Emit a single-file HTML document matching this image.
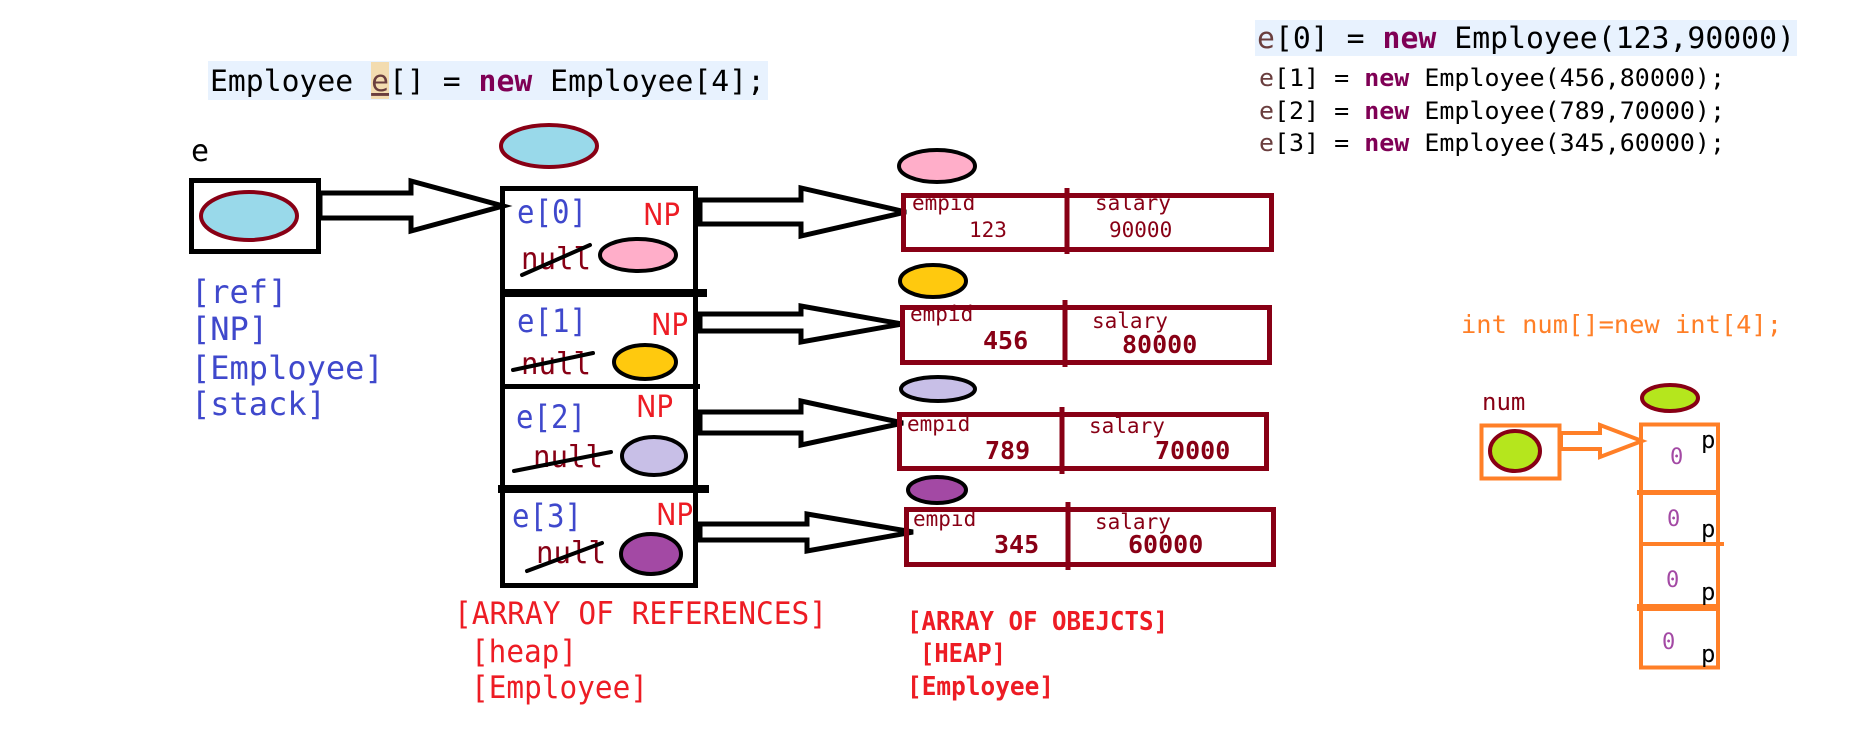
<!DOCTYPE html>
<html><head><meta charset="utf-8"><style>
html,body{margin:0;padding:0;background:#fff;}
svg{display:block}
text{font-family:"DejaVu Sans Mono","Liberation Mono",monospace;}
</style></head><body>
<svg width="1850" height="743" viewBox="0 0 1850 743" xmlns="http://www.w3.org/2000/svg">
<!-- header code -->
<rect x="208" y="61" width="560" height="39" fill="#e8f2fe"/>
<rect x="371" y="62" width="18" height="37" fill="#f3dcb0"/>
<text x="210" y="91" font-size="29" textLength="555" lengthAdjust="spacingAndGlyphs" fill="#000">Employee <tspan fill="#6a3e3e" text-decoration="underline">e</tspan>[] = <tspan fill="#7f0055" font-weight="bold">new</tspan> Employee[4];</text>

<!-- e label and box -->
<text x="191" y="161" font-size="30" fill="#000">e</text>
<rect x="191.5" y="180.5" width="127" height="71" fill="none" stroke="#000" stroke-width="5"/>
<ellipse cx="249" cy="216" rx="48" ry="24" fill="#99d9ea" stroke="#880015" stroke-width="4"/>
<polygon points="320,193 411,193 411,181 503,206 411,231 411,218 320,218" fill="#fff" stroke="#000" stroke-width="5" stroke-linejoin="miter"/>

<text font-size="32" fill="#3f48cc">
<tspan x="191" y="303">[ref]</tspan><tspan x="191" y="340">[NP]</tspan><tspan x="191" y="379">[Employee]</tspan><tspan x="191" y="415">[stack]</tspan></text>

<!-- top ellipse -->
<ellipse cx="549" cy="146" rx="48" ry="21" fill="#99d9ea" stroke="#880015" stroke-width="4"/>

<!-- array of references -->
<rect x="502.5" y="188.5" width="193" height="397" fill="none" stroke="#000" stroke-width="5"/>
<rect x="501" y="289" width="206" height="8" fill="#000"/>
<rect x="502" y="384" width="198" height="5" fill="#000"/>
<rect x="498" y="485" width="211" height="8" fill="#000"/>

<g font-size="32" fill="#3f48cc">
<text x="517" y="223" textLength="70" lengthAdjust="spacingAndGlyphs">e[0]</text>
<text x="517" y="332" textLength="70" lengthAdjust="spacingAndGlyphs">e[1]</text>
<text x="516" y="428" textLength="70" lengthAdjust="spacingAndGlyphs">e[2]</text>
<text x="512" y="527" textLength="70" lengthAdjust="spacingAndGlyphs">e[3]</text>
</g>
<g font-size="30" fill="#ed1c24">
<text x="643" y="225" textLength="37" lengthAdjust="spacingAndGlyphs" style="font-family:'DejaVu Sans'">NP</text>
<text x="651" y="335" textLength="37" lengthAdjust="spacingAndGlyphs" style="font-family:'DejaVu Sans'">NP</text>
<text x="636" y="417" textLength="37" lengthAdjust="spacingAndGlyphs" style="font-family:'DejaVu Sans'">NP</text>
<text x="656" y="525" textLength="37" lengthAdjust="spacingAndGlyphs" style="font-family:'DejaVu Sans'">NP</text>
</g>
<g font-size="30" fill="#880015">
<text x="521" y="269" textLength="70" lengthAdjust="spacingAndGlyphs">null</text>
<text x="521" y="374" textLength="70" lengthAdjust="spacingAndGlyphs">null</text>
<text x="533" y="467" textLength="70" lengthAdjust="spacingAndGlyphs">null</text>
<text x="536" y="563" textLength="70" lengthAdjust="spacingAndGlyphs">null</text>
</g>
<g stroke="#000" stroke-width="4" stroke-linecap="round">
<line x1="522" y1="275" x2="590" y2="245"/>
<line x1="513" y1="370" x2="593" y2="353"/>
<line x1="514" y1="471" x2="611" y2="452"/>
<line x1="527" y1="571" x2="602" y2="543"/>
</g>
<ellipse cx="638" cy="255" rx="38" ry="16" fill="#ffaec9" stroke="#000" stroke-width="4"/>
<ellipse cx="645" cy="362" rx="31" ry="17" fill="#ffc90e" stroke="#000" stroke-width="4"/>
<ellipse cx="654" cy="456" rx="32" ry="19" fill="#c8bfe7" stroke="#000" stroke-width="4"/>
<ellipse cx="651" cy="554" rx="30" ry="20" fill="#a349a4" stroke="#000" stroke-width="4"/>

<!-- arrows to objects -->
<g fill="#fff" stroke="#000" stroke-width="5">
<polygon points="700,200 801,200 801,188 906,212 801,236 801,224 700,224"/>
<polygon points="700,314 801,314 801,306 902,324 801,342 801,331 700,331"/>
<polygon points="700,412 801,412 801,401 903,423 801,445 801,433 700,433"/>
<polygon points="700,524 807,524 807,514 913,532 807,551 807,540 700,540"/>
</g>
<rect x="696" y="198" width="6" height="28" fill="#000"/>
<rect x="696" y="312" width="6" height="21" fill="#000"/>

<!-- objects -->
<g fill="none" stroke="#880015" stroke-width="5">
<rect x="903.5" y="195.5" width="368" height="54"/>
<line x1="1067" y1="188" x2="1067" y2="254"/>
<rect x="902.5" y="307.5" width="367" height="55"/>
<line x1="1065" y1="300" x2="1065" y2="367"/>
<rect x="899.5" y="414.5" width="367" height="54"/>
<line x1="1062" y1="407" x2="1062" y2="474"/>
<rect x="906.5" y="509.5" width="367" height="55"/>
<line x1="1068" y1="502" x2="1068" y2="570"/>
</g>
<ellipse cx="937" cy="166" rx="38" ry="16" fill="#ffaec9" stroke="#000" stroke-width="4"/>
<ellipse cx="933" cy="281" rx="33" ry="16" fill="#ffc90e" stroke="#000" stroke-width="4"/>
<ellipse cx="938" cy="389" rx="37" ry="12" fill="#c8bfe7" stroke="#000" stroke-width="4"/>
<ellipse cx="937" cy="490" rx="29" ry="13" fill="#a349a4" stroke="#000" stroke-width="4"/>

<g font-size="21" fill="#880015">
<text x="912" y="210">empid</text><text x="969" y="237">123</text>
<text x="1095" y="210">salary</text><text x="1109" y="237">90000</text>
<text x="910" y="321">empid</text>
<text x="1092" y="328">salary</text>
<text x="907" y="431">empid</text>
<text x="1089" y="433">salary</text>
<text x="913" y="526">empid</text>
<text x="1095" y="529">salary</text>
</g>
<g font-size="25" fill="#880015" font-weight="bold">
<text x="983" y="349">456</text><text x="1122" y="353">80000</text>
<text x="985" y="459">789</text><text x="1155" y="459">70000</text>
<text x="994" y="553">345</text><text x="1128" y="553">60000</text>
</g>

<!-- bottom labels -->
<g font-size="31" fill="#ed1c24">
<text x="454" y="624" textLength="373" lengthAdjust="spacingAndGlyphs">[ARRAY OF REFERENCES]</text>
<text x="471" y="662" textLength="106" lengthAdjust="spacingAndGlyphs">[heap]</text>
<text x="471" y="698" textLength="177" lengthAdjust="spacingAndGlyphs">[Employee]</text>
</g>
<g font-size="26" fill="#ed1c24" font-weight="bold">
<text x="907" y="630" textLength="261" lengthAdjust="spacingAndGlyphs">[ARRAY OF OBEJCTS]</text>
<text x="920" y="662" textLength="86" lengthAdjust="spacingAndGlyphs">[HEAP]</text>
<text x="907" y="695" textLength="147" lengthAdjust="spacingAndGlyphs">[Employee]</text>
</g>

<!-- right code -->
<rect x="1255" y="20" width="542" height="36" fill="#e8f2fe"/>
<text x="1257" y="48" font-size="29" textLength="538" lengthAdjust="spacingAndGlyphs" fill="#000"><tspan fill="#6a3e3e">e</tspan>[0] = <tspan fill="#7f0055" font-weight="bold">new</tspan> Employee(123,90000)</text>
<g font-size="24" fill="#000">
<text x="1259" y="86" textLength="466" lengthAdjust="spacingAndGlyphs"><tspan fill="#6a3e3e">e</tspan>[1] = <tspan fill="#7f0055" font-weight="bold">new</tspan> Employee(456,80000);</text>
<text x="1259" y="119" textLength="466" lengthAdjust="spacingAndGlyphs"><tspan fill="#6a3e3e">e</tspan>[2] = <tspan fill="#7f0055" font-weight="bold">new</tspan> Employee(789,70000);</text>
<text x="1259" y="151" textLength="466" lengthAdjust="spacingAndGlyphs"><tspan fill="#6a3e3e">e</tspan>[3] = <tspan fill="#7f0055" font-weight="bold">new</tspan> Employee(345,60000);</text>
</g>

<!-- int array -->
<text x="1461" y="333" font-size="25" fill="#ff7f27" textLength="321" lengthAdjust="spacingAndGlyphs">int num[]=new int[4];</text>
<text x="1482" y="410" font-size="24" fill="#880015">num</text>
<rect x="1481.5" y="425.5" width="78" height="53" fill="none" stroke="#ff7f27" stroke-width="4"/>
<ellipse cx="1515" cy="451" rx="25" ry="20" fill="#b5e61d" stroke="#880015" stroke-width="4"/>
<polygon points="1561,433 1600,433 1600,425 1642,441 1600,457 1600,449 1561,449" fill="#fff" stroke="#ff7f27" stroke-width="4"/>
<ellipse cx="1670" cy="398" rx="28" ry="13" fill="#b5e61d" stroke="#880015" stroke-width="4"/>
<rect x="1641" y="424.5" width="77" height="243" fill="none" stroke="#ff7f27" stroke-width="4"/>
<rect x="1637" y="490" width="82" height="5" fill="#ff7f27"/>
<rect x="1640" y="542" width="84" height="4" fill="#ff7f27"/>
<rect x="1637" y="604" width="83" height="7" fill="#ff7f27"/>
<g font-size="22" fill="#a349a4">
<text x="1670" y="464">0</text><text x="1667" y="526">0</text><text x="1666" y="587">0</text><text x="1662" y="649">0</text>
</g>
<g font-size="24" fill="#000">
<text x="1701" y="448">p</text><text x="1701" y="537">p</text><text x="1701" y="600">p</text><text x="1701" y="662">p</text>
</g>
</svg>
</body></html>
